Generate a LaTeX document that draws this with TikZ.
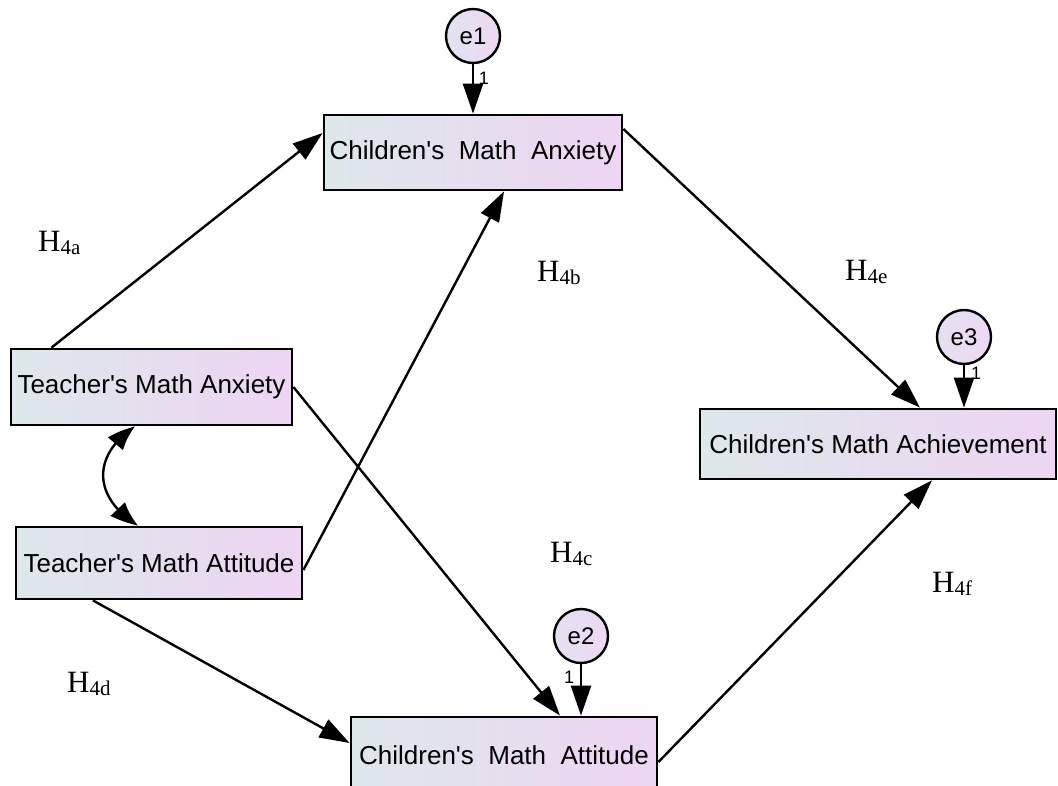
\documentclass[tikz,border=0pt]{standalone}
\usepackage{fontspec}
\setmainfont{Liberation Serif}
\setsansfont{Liberation Sans}
\usepackage{tikz}
\usetikzlibrary{arrows.meta, bending, positioning, calc}

\definecolor{boxleft}{RGB}{221,232,234}
\definecolor{boxright}{RGB}{237,213,243}
\definecolor{errleft}{RGB}{226,226,240}
\definecolor{errright}{RGB}{238,216,243}

\newcommand{\hyp}[1]{H\raisebox{-3pt}{\fontsize{21}{22}\selectfont #1}}
\newcommand{\ap}{\textquotesingle}

\begin{document}
\begin{tikzpicture}[x=1pt, y=-1pt,
    var/.style={draw, line width=2.8pt, left color=boxleft, right color=boxright,
        font=\sffamily\fontsize{26}{30}\selectfont, inner sep=0pt, minimum height=75pt},
    err/.style={circle, draw, line width=2.4pt, left color=errleft, right color=errright,
        font=\sffamily\fontsize{24}{26}\selectfont, inner sep=0pt, minimum size=54pt},
    path/.style={line width=2.4pt, -{Triangle[length=30pt, width=20pt]}},
    one/.style={font=\sffamily\fontsize{18}{20}\selectfont, inner sep=0pt},
    hlab/.style={font=\fontsize{31}{34}\selectfont, anchor=base west, inner sep=0pt}]
    \useasboundingbox (0,0) rectangle (1058,785);

    % Observed variables
    \node[var, minimum width=298pt] (CMA) at (473,152.5) {Children\ap s\ \ Math\ \ Anxiety};
    \node[var, minimum width=281pt, minimum height=76pt] (TMA) at (151.5,387) {Teacher\ap s Math Anxiety};
    \node[var, minimum width=286pt, minimum height=72pt] (TMAt) at (159,563) {Teacher\ap s Math Attitude};
    \node[var, minimum width=356pt, minimum height=70pt] (CMAch) at (878,444) {Children\ap s Math Achievement};
    \node[var, minimum width=306pt, minimum height=76pt] (CMAt) at (504,755) {Children\ap s\ \ Math\ \ Attitude};

    % Error terms
    \node[err] (e1) at (473,36) {e1};
    \node[err] (e2) at (581,636) {e2};
    \node[err] (e3) at (964,337) {e3};

    \draw[path] (e1) -- (CMA.north);
    \draw[path] (e2) -- (e2 |- CMAt.north);
    \draw[path] (e3) -- (e3 |- CMAch.north);
    \node[one] (w1) at (484,78) {1};
    \node[one] (w2) at (569,677) {1};
    \node[one] (w3) at (976,373) {1};

    % Paths
    \draw[path] ([xshift=-100pt]TMA.north) -- ([yshift=19.5pt]CMA.west);
    \draw[path] ([yshift=-7pt]TMAt.east) -- ([xshift=31pt]CMA.south);
    \draw[path] ([yshift=23.5pt]CMA.east) -- ([xshift=42pt]CMAch.north);
    \draw[path] (TMA.east) -- ([xshift=56pt]CMAt.north);
    \draw[path] ([xshift=-66pt]TMAt.south) -- ([yshift=12pt]CMAt.west);
    \draw[path] ([yshift=-7pt]CMAt.east) -- ([xshift=54pt]CMAch.south);

    % Covariance
    \draw[line width=2.4pt, {Triangle[length=28pt, width=19pt, bend]}-{Triangle[length=28pt, width=19pt, bend]}]
        ([xshift=-16.5pt]TMA.south) .. controls (92,455) and (92,497) .. ([xshift=-21pt]TMAt.north);

    % Hypotheses
    \node[hlab] (h4a) at (38,251) {\hyp{4a}};
    \node[hlab] (h4b) at (537,281) {\hyp{4b}};
    \node[hlab] (h4e) at (845,280) {\hyp{4e}};
    \node[hlab] (h4c) at (550,562) {\hyp{4c}};
    \node[hlab] (h4f) at (932,592) {\hyp{4f}};
    \node[hlab] (h4d) at (67,692) {\hyp{4d}};
\end{tikzpicture}
\end{document}
